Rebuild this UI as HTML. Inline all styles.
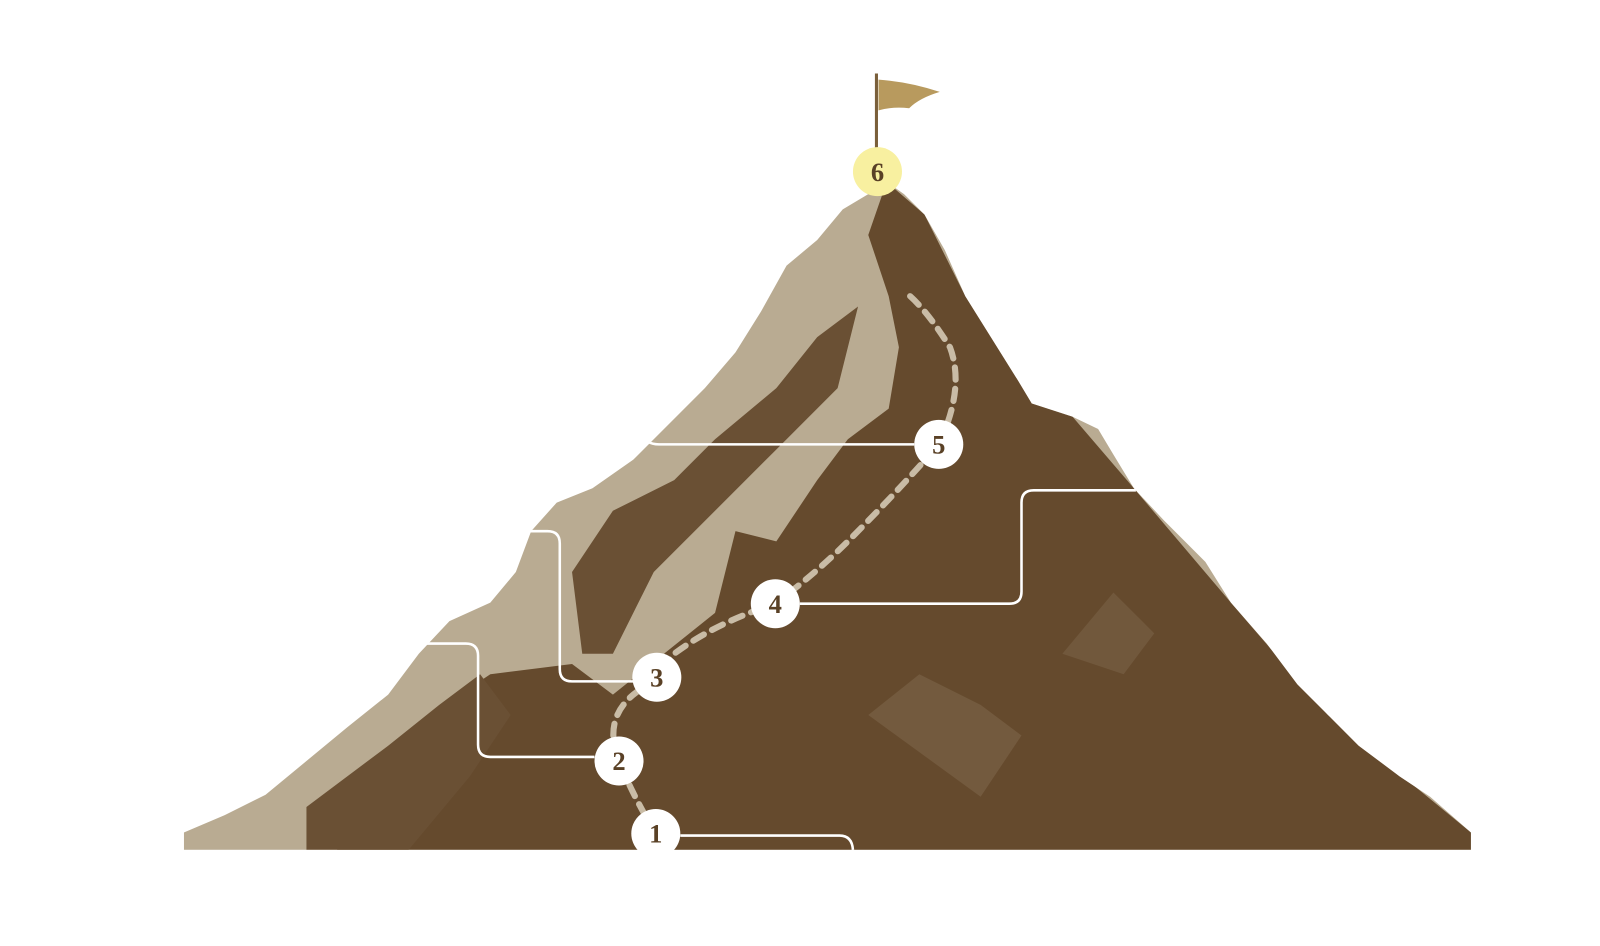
<!DOCTYPE html>
<html><head><meta charset="utf-8"><style>
html,body{margin:0;padding:0;background:#fff;width:1600px;height:946px;overflow:hidden}
svg{display:block}
</style></head><body>
<svg width="1600" height="946" viewBox="0 0 1600 946" xmlns="http://www.w3.org/2000/svg">
<defs>
<clipPath id="m"><path d="M180,815 L220,798 L260,778 L300,745 L340,712 L380,680 L410,640 L440,608 L480,590 L505,560 L520,520 L545,492 L580,478 L620,450 L650,420 L690,380 L720,345 L745,305 L770,260 L800,235 L825,205 L850,190 L868,178 L885,190 L905,210 L925,245 L945,290 L970,330 L995,370 L1010,395 L1050,408 L1075,420 L1090,445 L1110,478 L1140,510 L1180,550 L1205,590 L1240,630 L1270,670 L1300,700 L1330,730 L1370,760 L1400,780 L1440,815 L1440,832 L180,832 Z"/></clipPath>
</defs>
<g transform="scale(1.0215)">
<g clip-path="url(#m)">
<rect x="170" y="170" width="1280" height="670" fill="#b9ab92"/>
<path d="M850,230 L868,178 L905,210 L945,290 L995,370 L1050,408 L1110,478 L1205,590 L1300,700 L1440,815 L1440,832 L330,832 L360,760 L420,700 L480,660 L560,650 L600,680 L650,640 L700,600 L720,520 L760,530 L800,470 L830,430 L870,400 L880,340 L870,290 Z" fill="#654a2d"/>
<path d="M560,560 L600,500 L660,470 L700,430 L760,380 L800,330 L840,300 L820,380 L760,440 L700,500 L640,560 L600,640 L570,640 Z" fill="#6a5034"/>
<path d="M300,790 L380,730 L430,690 L470,660 L500,700 L460,760 L400,832 L300,832 Z" fill="#6a5034"/>
<path d="M850,700 L900,660 L960,690 L1000,720 L960,780 Z" fill="#8a7358" opacity=".4"/>
<path d="M1040,640 L1090,580 L1130,620 L1100,660 Z" fill="#8a7358" opacity=".35"/>
</g>
<line x1="858" y1="72" x2="858" y2="146" stroke="#7a5f3a" stroke-width="3"/>
<path d="M860,78 Q890,80 920,90 Q900,96 890,106 Q875,104 860,108 Z" fill="#b89a5e"/>
<path d="M642,816 Q620,780 606,745 Q590,705 620,680 Q640,665 660,640 Q700,610 759,591 Q800,560 830,530 Q880,480 919,435 Q945,380 930,340 Q905,300 885,285" fill="none" stroke="#c9bca6" stroke-width="6" stroke-dasharray="12 9" stroke-linecap="round"/>
<g fill="none" stroke="#fff" stroke-width="2.5">
<path d="M630,425 Q632,435 645,435 L895,435"/>
<path d="M783,591 L988,591 Q1000,591 1000,579 L1000,492 Q1000,480 1012,480 L1112,480"/>
<path d="M512,520 L536,520 Q548,520 548,532 L548,655 Q548,667 560,667 L620,667"/>
<path d="M410,630 L456,630 Q468,630 468,642 L468,729 Q468,741 480,741 L582,741"/>
<path d="M666,818 L822,818 Q834,818 835,832"/>
</g>
<g font-family="'Liberation Serif',serif" font-weight="bold" font-size="26" fill="#5a4126" text-anchor="middle">
<circle cx="859" cy="168" r="24" fill="#f8f0a0"/><text x="859" y="177">6</text>
<circle cx="919" cy="435" r="24" fill="#fff"/><text x="919" y="444">5</text>
<circle cx="759" cy="591" r="24" fill="#fff"/><text x="759" y="600">4</text>
<circle cx="643" cy="663" r="24" fill="#fff"/><text x="643" y="672">3</text>
<circle cx="606" cy="745" r="24" fill="#fff"/><text x="606" y="754">2</text>
<circle cx="642" cy="816" r="24" fill="#fff"/><text x="642" y="825">1</text>
</g>
</g>
</svg>
</body></html>
